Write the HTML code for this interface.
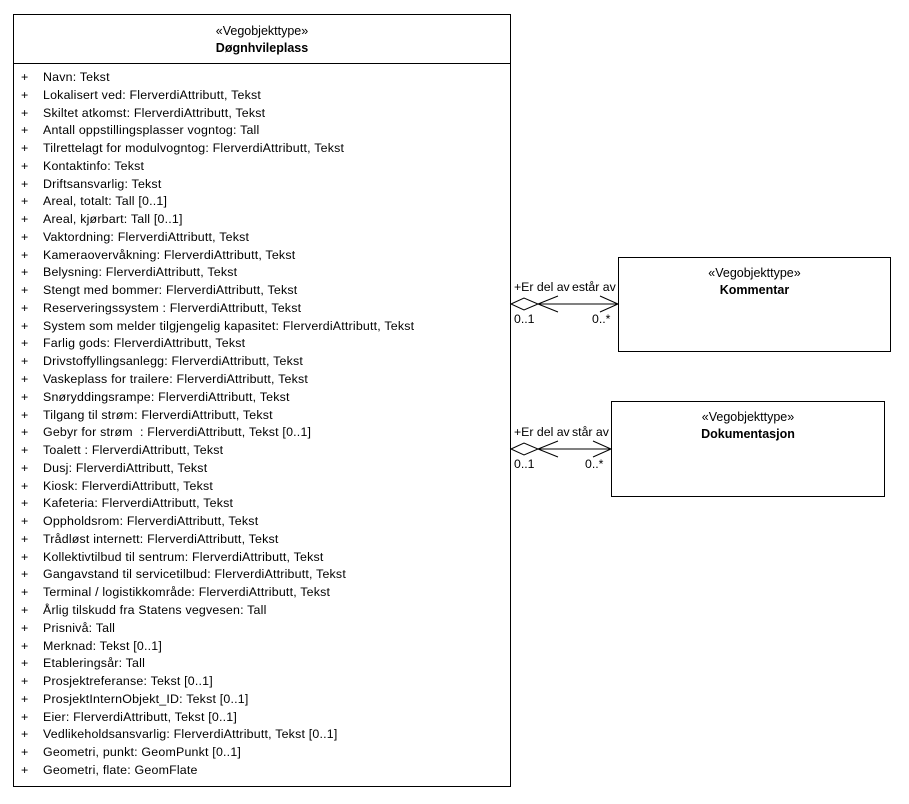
<!DOCTYPE html>
<html><head><meta charset="utf-8"><style>
body{margin:0;width:909px;height:804px;background:#fff;position:relative;font-family:"Liberation Sans",sans-serif;color:#000;overflow:hidden}
.box{position:absolute;border:1px solid #000;box-sizing:border-box;background:#fff}
.st{position:absolute;left:0;right:0;text-align:center;font-size:12.5px}
.b{font-weight:bold}
.rows{position:absolute;left:0;top:54px;font-size:12.4px;letter-spacing:0.2px;line-height:17.77px}
.rows div{position:relative;padding-left:29px;white-space:pre;height:17.77px}
.rows div:before{content:"+";position:absolute;left:7px}
.lbl{position:absolute;font-size:12.3px;white-space:nowrap}
</style></head><body>
<div class="box" style="left:13px;top:14px;width:498px;height:773px;border-width:1.5px">
 <div class="st" style="top:9px">«Vegobjekttype»</div>
 <div class="st b" style="top:26px">Døgnhvileplass</div>
 <div style="position:absolute;left:0;right:0;top:48px;border-top:1px solid #000"></div>
 <div class="rows"><div>Navn: Tekst</div><div>Lokalisert ved: FlerverdiAttributt, Tekst</div><div>Skiltet atkomst: FlerverdiAttributt, Tekst</div><div>Antall oppstillingsplasser vogntog: Tall</div><div>Tilrettelagt for modulvogntog: FlerverdiAttributt, Tekst</div><div>Kontaktinfo: Tekst</div><div>Driftsansvarlig: Tekst</div><div>Areal, totalt: Tall [0..1]</div><div>Areal, kjørbart: Tall [0..1]</div><div>Vaktordning: FlerverdiAttributt, Tekst</div><div>Kameraovervåkning: FlerverdiAttributt, Tekst</div><div>Belysning: FlerverdiAttributt, Tekst</div><div>Stengt med bommer: FlerverdiAttributt, Tekst</div><div>Reserveringssystem : FlerverdiAttributt, Tekst</div><div>System som melder tilgjengelig kapasitet: FlerverdiAttributt, Tekst</div><div>Farlig gods: FlerverdiAttributt, Tekst</div><div>Drivstoffyllingsanlegg: FlerverdiAttributt, Tekst</div><div>Vaskeplass for trailere: FlerverdiAttributt, Tekst</div><div>Snøryddingsrampe: FlerverdiAttributt, Tekst</div><div>Tilgang til strøm: FlerverdiAttributt, Tekst</div><div>Gebyr for strøm  : FlerverdiAttributt, Tekst [0..1]</div><div>Toalett : FlerverdiAttributt, Tekst</div><div>Dusj: FlerverdiAttributt, Tekst</div><div>Kiosk: FlerverdiAttributt, Tekst</div><div>Kafeteria: FlerverdiAttributt, Tekst</div><div>Oppholdsrom: FlerverdiAttributt, Tekst</div><div>Trådløst internett: FlerverdiAttributt, Tekst</div><div>Kollektivtilbud til sentrum: FlerverdiAttributt, Tekst</div><div>Gangavstand til servicetilbud: FlerverdiAttributt, Tekst</div><div>Terminal / logistikkområde: FlerverdiAttributt, Tekst</div><div>Årlig tilskudd fra Statens vegvesen: Tall</div><div>Prisnivå: Tall</div><div>Merknad: Tekst [0..1]</div><div>Etableringsår: Tall</div><div>Prosjektreferanse: Tekst [0..1]</div><div>ProsjektInternObjekt_ID: Tekst [0..1]</div><div>Eier: FlerverdiAttributt, Tekst [0..1]</div><div>Vedlikeholdsansvarlig: FlerverdiAttributt, Tekst [0..1]</div><div>Geometri, punkt: GeomPunkt [0..1]</div><div>Geometri, flate: GeomFlate</div></div>
</div>
<div class="box" style="left:618px;top:257px;width:273px;height:95px">
 <div class="st" style="top:8px">«Vegobjekttype»</div>
 <div class="st b" style="top:25px">Kommentar</div>
</div>
<div class="box" style="left:611px;top:401px;width:274px;height:96px">
 <div class="st" style="top:8px">«Vegobjekttype»</div>
 <div class="st b" style="top:25px">Dokumentasjon</div>
</div>
<svg width="909" height="804" style="position:absolute;left:0;top:0" fill="none" stroke="#000" stroke-width="1">
 <polygon points="511,304 524,298 538,304 524,310" fill="#fff"/>
 <line x1="538" y1="304" x2="618" y2="304"/>
 <polyline points="558,296 538,304 558,312"/>
 <polyline points="600,296 618,304 600,312"/>
 <polygon points="511,449 524,443 538,449 524,455" fill="#fff"/>
 <line x1="538" y1="449" x2="611" y2="449"/>
 <polyline points="558,441 538,449 558,457"/>
 <polyline points="593,441 611,449 593,457"/>
</svg>
<div class="lbl" style="left:514px;top:280px">+Er del av</div>
<div class="lbl" style="left:572px;top:280px">estår av</div>
<div class="lbl" style="left:514px;top:312px">0..1</div>
<div class="lbl" style="left:592px;top:312px">0..*</div>
<div class="lbl" style="left:514px;top:425px">+Er del av</div>
<div class="lbl" style="left:572px;top:425px">står av</div>
<div class="lbl" style="left:514px;top:457px">0..1</div>
<div class="lbl" style="left:585px;top:457px">0..*</div>
</body></html>
